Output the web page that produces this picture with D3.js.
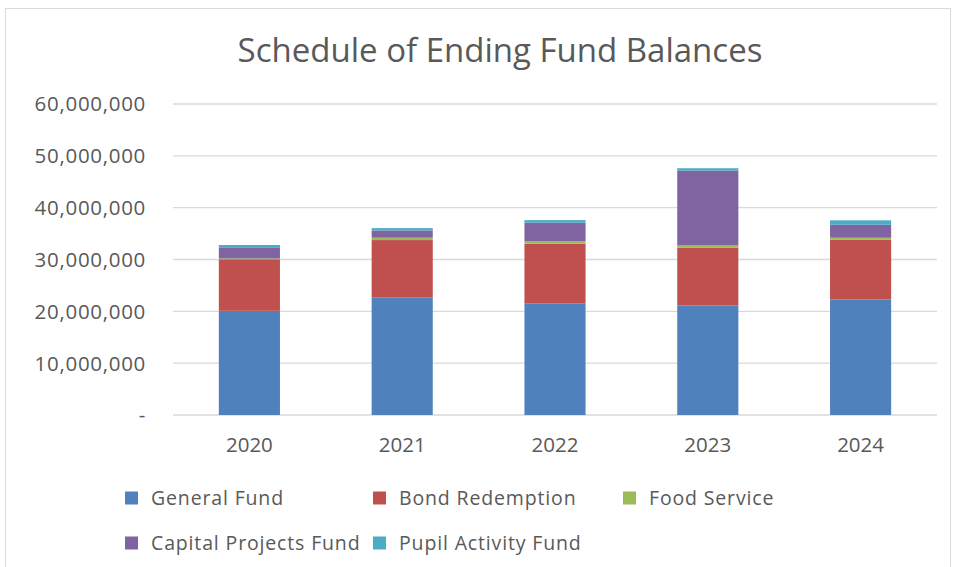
<!DOCTYPE html>
<html>
<head>
<meta charset="utf-8">
<script src="https://cdn.jsdelivr.net/npm/d3@7"></script>
<style>
  body { margin: 0; background: #fff; }
  text { font-family: "Open Sans", sans-serif; fill: #595959; }
</style>
</head>
<body>
<div id="chart"></div>
<script>
const years = ["2020", "2021", "2022", "2023", "2024"]
const funds = ["General Fund", "Bond Redemption", "Food Service", "Capital Projects Fund", "Pupil Activity Fund"]
const generalFund = [20100000, 22700000, 21550000, 21150000, 22300000]
const bondRedemption = [9950000, 11050000, 11500000, 11100000, 11500000]
const foodService = [150000, 450000, 450000, 460000, 400000]
const capitalProjects = [2150000, 1400000, 3600000, 14450000, 2500000]
const pupilActivity = [450000, 450000, 500000, 450000, 850000]
const yTicks = [0, 10000000, 20000000, 30000000, 40000000, 50000000, 60000000]
const colors = ["#4f81bd", "#c0504d", "#9bbb59", "#8064a2", "#4bacc6"]

const width = 954
const height = 567
const margin = { top: 104, right: 17, bottom: 152, left: 173 }

const svg = d3.select("#chart").append("svg")
    .attr("width", width)
    .attr("height", height)

// chart border
svg.append("rect")
    .attr("x", 5.5).attr("y", 8.5)
    .attr("width", 945).attr("height", 570)
    .attr("fill", "none")
    .attr("stroke", "#d9d9d9")

svg.append("text")
    .attr("x", 500)
    .attr("y", 62)
    .attr("text-anchor", "middle")
    .style("font-size", "33px")
    .text("Schedule of Ending Fund Balances")

const rows = years.map((y, i) => ({
    year: y,
    "General Fund": generalFund[i],
    "Bond Redemption": bondRedemption[i],
    "Food Service": foodService[i],
    "Capital Projects Fund": capitalProjects[i],
    "Pupil Activity Fund": pupilActivity[i]
}))

const stacked = d3.stack().keys(funds)(rows)

const x = d3.scaleBand()
    .domain(years)
    .range([margin.left, width - margin.right])
    .paddingInner(0.6)
    .paddingOuter(0.3)

const y = d3.scaleLinear()
    .domain([0, 60000000])
    .range([height - margin.bottom, margin.top])

const color = d3.scaleOrdinal().domain(funds).range(colors)

// gridlines
svg.append("g")
    .selectAll("line")
    .data(yTicks)
    .join("line")
    .attr("x1", margin.left)
    .attr("x2", width - margin.right)
    .attr("y1", d => y(d))
    .attr("y2", d => y(d))
    .attr("stroke", "#d9d9d9")
    .attr("stroke-width", 1.3)

// y labels
svg.append("g")
    .selectAll("text")
    .data(yTicks)
    .join("text")
    .attr("x", 146)
    .attr("y", d => y(d))
    .attr("dy", "0.36em")
    .attr("text-anchor", "end")
    .style("font-size", "20.5px")
    .style("letter-spacing", "0.7px")
    .text(d => d === 0 ? "-" : d3.format(",")(d))

// bars
svg.append("g")
    .selectAll("g")
    .data(stacked)
    .join("g")
    .attr("fill", d => color(d.key))
    .selectAll("rect")
    .data(d => d)
    .join("rect")
    .attr("x", d => x(d.data.year))
    .attr("width", x.bandwidth())
    .attr("y", d => y(d[1]))
    .attr("height", d => y(d[0]) - y(d[1]))

// x labels
svg.append("g")
    .selectAll("text")
    .data(years)
    .join("text")
    .attr("x", d => x(d) + x.bandwidth() / 2)
    .attr("y", 452)
    .attr("text-anchor", "middle")
    .style("font-size", "20.5px")
    .text(d => d)

// legend
const legendPos = [[125, 498], [373, 498], [623, 498], [125, 543], [373, 543]]
const legend = svg.append("g")
    .selectAll("g")
    .data(funds)
    .join("g")
    .attr("transform", (d, i) => `translate(${legendPos[i][0]},${legendPos[i][1]})`)

legend.append("rect")
    .attr("x", 0).attr("y", -6.5)
    .attr("width", 13).attr("height", 13)
    .attr("fill", d => color(d))

legend.append("text")
    .attr("x", 26)
    .attr("y", 0)
    .attr("dy", "0.36em")
    .style("font-size", "19.5px")
    .style("letter-spacing", "0.85px")
    .text(d => d)
</script>
</body>
</html>
